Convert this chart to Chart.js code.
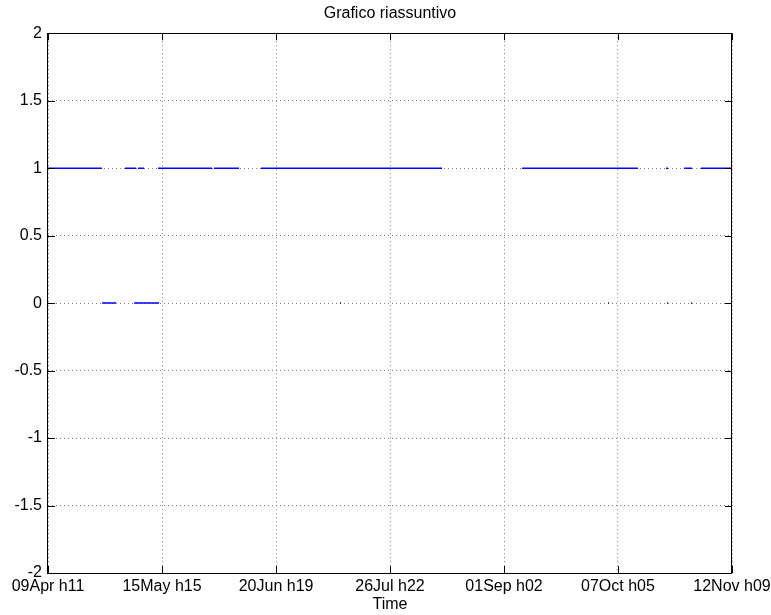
<!DOCTYPE html>
<html>
<head>
<meta charset="utf-8">
<title>Grafico riassuntivo</title>
<script src="https://cdn.jsdelivr.net/npm/chart.js@4/dist/chart.umd.min.js"></script>
<style>
  html, body { margin: 0; padding: 0; background: #ffffff; }
  canvas { display: block; }
</style>
</head>
<body>
<canvas id="chart" width="771" height="615"></canvas>
<script>
// Time axis: hours elapsed since 09Apr h11
const xTickHours = [0, 868, 1736, 2603, 3471, 4338, 5206];
const xTickLabels = ['09Apr h11', '15May h15', '20Jun h19', '26Jul h22', '01Sep h02', '07Oct h05', '12Nov h09'];
const yTicks = [-2, -1.5, -1, -0.5, 0, 0.5, 1, 1.5, 2];

// Intervals where the signal sits at level 1 (start/end hours)
const highStart = [0, 586, 685, 837, 1263, 1621, 3608, 4704, 4841, 4970];
const highEnd   = [411, 670, 731, 1248, 1454, 2999, 4491, 4719, 4902, 5206];
// Intervals where the signal sits at level 0
const lowStart = [411, 655, 2222, 4262, 4711, 4894];
const lowEnd   = [518, 845, 2230, 4270, 4719, 4902];

const FONT = '"Liberation Sans", Arial, Helvetica, sans-serif';

function segments(starts, ends, level) {
  const pts = [];
  for (let i = 0; i < starts.length; i++) {
    pts.push({ x: starts[i], y: level });
    pts.push({ x: ends[i], y: level });
    pts.push({ x: ends[i], y: null });
  }
  return pts;
}

// Axes box with inward tick marks on all four sides
const boxPlugin = {
  id: 'boxTicks',
  afterDraw(chart) {
    const { ctx, chartArea: a, scales } = chart;
    const len = 7;
    ctx.save();
    ctx.strokeStyle = '#000000';
    ctx.lineWidth = 1;
    ctx.beginPath();
    xTickHours.forEach(v => {
      const px = Math.round(scales.x.getPixelForValue(v)) + 0.5;
      ctx.moveTo(px, a.bottom); ctx.lineTo(px, a.bottom - len);
      ctx.moveTo(px, a.top); ctx.lineTo(px, a.top + len);
    });
    yTicks.forEach(v => {
      const py = Math.round(scales.y.getPixelForValue(v)) + 0.5;
      ctx.moveTo(a.left, py); ctx.lineTo(a.left + len, py);
      ctx.moveTo(a.right, py); ctx.lineTo(a.right - len, py);
    });
    ctx.stroke();
    ctx.strokeRect(Math.round(a.left) - 0.5, Math.round(a.top) + 0.5,
                   Math.round(a.right - a.left), Math.round(a.bottom - a.top));
    ctx.restore();
  }
};

const bgPlugin = {
  id: 'whiteBg',
  beforeDraw(chart) {
    const { ctx, width, height } = chart;
    ctx.save();
    ctx.fillStyle = '#ffffff';
    ctx.fillRect(0, 0, width, height);
    ctx.restore();
  }
};

new Chart(document.getElementById('chart'), {
  type: 'line',
  data: {
    datasets: [
      {
        label: 'livello 1',
        data: segments(highStart, highEnd, 1),
        borderColor: '#0000ff',
        borderWidth: 1.5,
        pointRadius: 0,
        spanGaps: false,
        tension: 0
      },
      {
        label: 'livello 0',
        data: segments(lowStart, lowEnd, 0),
        borderColor: '#0000ff',
        borderWidth: 1.5,
        pointRadius: 0,
        spanGaps: false,
        tension: 0
      }
    ]
  },
  options: {
    responsive: false,
    animation: false,
    events: [],
    // left padding keeps the title centred over the plot area
    layout: { padding: { left: 9, right: 0, top: 0, bottom: 0 } },
    plugins: {
      legend: { display: false },
      tooltip: { enabled: false },
      title: {
        display: true,
        text: 'Grafico riassuntivo',
        color: '#000000',
        font: { family: FONT, size: 16, weight: 'normal', lineHeight: 1.2 },
        padding: { top: 4, bottom: 10 }
      }
    },
    scales: {
      x: {
        type: 'linear',
        min: xTickHours[0],
        max: xTickHours[xTickHours.length - 1],
        afterBuildTicks(scale) {
          scale.ticks = xTickHours.map(v => ({ value: v }));
        },
        afterFit(scale) {
          scale.height = 42;
          scale.paddingRight = 39;
        },
        ticks: {
          autoSkip: false,
          maxRotation: 0,
          padding: 4,
          color: '#000000',
          font: { family: FONT, size: 16 },
          callback(value) {
            const i = xTickHours.indexOf(value);
            return i >= 0 ? xTickLabels[i] : '';
          }
        },
        grid: { color: '#808080', lineWidth: 1, drawTicks: false },
        border: { display: false, dash: [1, 3] },
        title: {
          display: true,
          text: 'Time',
          color: '#000000',
          font: { family: FONT, size: 16, lineHeight: 1.25 },
          padding: { top: 0, bottom: 0 }
        }
      },
      y: {
        type: 'linear',
        min: -2,
        max: 2,
        afterBuildTicks(scale) {
          scale.ticks = yTicks.map(v => ({ value: v }));
        },
        afterFit(scale) { scale.width = 39; },
        ticks: {
          padding: 6,
          color: '#000000',
          font: { family: FONT, size: 16 },
          callback(value) { return String(value); }
        },
        grid: { color: '#808080', lineWidth: 1, drawTicks: false },
        border: { display: false, dash: [1, 3] }
      }
    }
  },
  plugins: [bgPlugin, boxPlugin]
});
</script>
</body>
</html>
